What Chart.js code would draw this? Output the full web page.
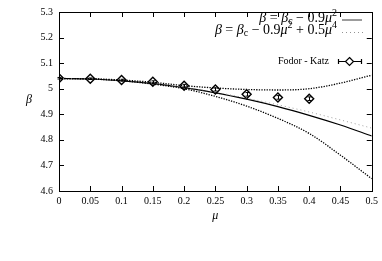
<!DOCTYPE html>
<html>
<head>
<meta charset="utf-8">
<script src="https://cdn.jsdelivr.net/npm/chart.js@4"></script>
<style>
html,body{margin:0;padding:0;background:#fff}
#c{display:block}
</style>
</head>
<body>
<canvas id="c" width="382" height="261"></canvas>
<script>
// valores
var mu = [0, 0.05, 0.1, 0.15, 0.2, 0.25, 0.3, 0.35, 0.4, 0.45, 0.5];
var betaCuad = [5.040, 5.038, 5.031, 5.020, 5.004, 4.984, 4.959, 4.930, 4.896, 4.858, 4.815];
var betaCuart = [5.040, 5.038, 5.031, 5.020, 5.005, 4.986, 4.963, 4.937, 4.909, 4.878, 4.846];
var bandaSup = [5.040, 5.039, 5.034, 5.025, 5.012, 5.003, 4.997, 4.995, 5.000, 5.022, 5.053];
var bandaInf = [5.040, 5.038, 5.031, 5.018, 5.000, 4.970, 4.932, 4.884, 4.825, 4.740, 4.648];

var fkMu = [0, 0.05, 0.1, 0.15, 0.2, 0.25, 0.3, 0.35, 0.4];
var fkBeta = [5.041, 5.039, 5.034, 5.027, 5.012, 4.997, 4.978, 4.966, 4.961];
var fkErr = [0.003, 0.003, 0.003, 0.004, 0.005, 0.006, 0.007, 0.007, 0.007];

function puntos(xs, ys){
    let out = [];
    xs.forEach((x, i) => out.push({x: x, y: ys[i]}));
    return out;
}

function etiqueta(v){
    return String(Number(Number(v).toFixed(2)));
}

// texto con subindices y superindices
function textoRico(ctx, partes, xDer, y, tam){
    let fuente = function(p){
        let t = (p[1] == 'sub' || p[1] == 'sup') ? Math.round(tam*0.7) : tam;
        let est = p[1] == 'i' ? 'italic ' : '';
        return est + t + 'px "Liberation Serif"';
    };
    let ancho = 0;
    partes.forEach(p => { ctx.font = fuente(p); ancho += ctx.measureText(p[0]).width; });
    let x = xDer - ancho;
    ctx.textBaseline = 'middle';
    ctx.textAlign = 'left';
    partes.forEach(p => {
        ctx.font = fuente(p);
        let dy = 0;
        if (p[1] == 'sub') dy = 3;
        if (p[1] == 'sup') dy = -5;
        ctx.fillText(p[0], x, y + dy);
        x += ctx.measureText(p[0]).width;
    });
}

var decorado = {
    id: 'decorado',
    afterDatasetsDraw(chart){
        let ctx = chart.ctx;
        let xs = chart.scales.x, ys = chart.scales.y;
        ctx.save();
        ctx.strokeStyle = '#000';
        ctx.lineWidth = 1;
        // barras de error
        fkMu.forEach((m, i) => {
            let px = Math.round(xs.getPixelForValue(m)) + 0.5;
            let y1 = ys.getPixelForValue(fkBeta[i] + fkErr[i]);
            let y2 = ys.getPixelForValue(fkBeta[i] - fkErr[i]);
            ctx.beginPath();
            ctx.moveTo(px, y1); ctx.lineTo(px, y2);
            ctx.moveTo(px - 2, y1); ctx.lineTo(px + 2, y1);
            ctx.moveTo(px - 2, y2); ctx.lineTo(px + 2, y2);
            ctx.stroke();
        });
        ctx.restore();
    },
    afterDraw(chart){
        let ctx = chart.ctx;
        let a = chart.chartArea;
        let xs = chart.scales.x, ys = chart.scales.y;
        ctx.save();
        ctx.strokeStyle = '#000';
        ctx.lineWidth = 1;
        ctx.strokeRect(Math.round(a.left) + 0.5, Math.round(a.top) + 0.5, Math.round(a.right - a.left), Math.round(a.bottom - a.top));
        ctx.beginPath();
        xs.ticks.forEach(t => {
            let px = Math.round(xs.getPixelForValue(t.value)) + 0.5;
            ctx.moveTo(px, a.bottom); ctx.lineTo(px, a.bottom - 5);
            ctx.moveTo(px, a.top); ctx.lineTo(px, a.top + 5);
        });
        ys.ticks.forEach(t => {
            let py = Math.round(ys.getPixelForValue(t.value)) + 0.5;
            ctx.moveTo(a.left, py); ctx.lineTo(a.left + 5, py);
            ctx.moveTo(a.right, py); ctx.lineTo(a.right - 5, py);
        });
        ctx.stroke();

        // titulos de ejes
        ctx.fillStyle = '#000';
        ctx.font = 'italic 12px "Liberation Serif"';
        ctx.textAlign = 'center';
        ctx.textBaseline = 'middle';
        ctx.fillText('β', 29, 100);
        ctx.fillText('μ', (a.left + a.right) / 2, 216);

        // leyenda
        textoRico(ctx, [['β','i'],[' = ','n'],['β','i'],['c','sub'],[' − 0.9','n'],['μ','i'],['2','sup']], 337, 18, 14);
        textoRico(ctx, [['β','i'],[' = ','n'],['β','i'],['c','sub'],[' − 0.9','n'],['μ','i'],['2','sup'],[' + 0.5','n'],['μ','i'],['4','sup']], 337, 30, 14);
        ctx.strokeStyle = '#666';
        ctx.lineWidth = 1.3;
        ctx.beginPath(); ctx.moveTo(342, 20); ctx.lineTo(362, 20); ctx.stroke();
        ctx.strokeStyle = '#777';
        ctx.lineWidth = 0.8;
        ctx.setLineDash([1, 3]);
        ctx.beginPath(); ctx.moveTo(342, 32.5); ctx.lineTo(363, 32.5); ctx.stroke();
        ctx.setLineDash([]);

        ctx.font = '10px "Liberation Serif"';
        ctx.textAlign = 'right';
        ctx.fillText('Fodor - Katz', 329, 61);
        ctx.strokeStyle = '#000';
        ctx.lineWidth = 1.2;
        ctx.beginPath();
        ctx.moveTo(338, 61.5); ctx.lineTo(362, 61.5);
        ctx.moveTo(338.5, 59); ctx.lineTo(338.5, 64);
        ctx.moveTo(361.5, 59); ctx.lineTo(361.5, 64);
        ctx.stroke();
        ctx.fillStyle = '#fff';
        ctx.beginPath();
        ctx.moveTo(349.5, 57.5); ctx.lineTo(353.5, 61.5); ctx.lineTo(349.5, 65.5); ctx.lineTo(345.5, 61.5); ctx.closePath();
        ctx.fill(); ctx.stroke();
        ctx.restore();
    }
};

var curva = {
    type: 'line',
    pointRadius: 0,
    fill: false,
    cubicInterpolationMode: 'monotone'
};

var grafica = new Chart(document.getElementById('c').getContext('2d'), {
    type: 'line',
    data: {
        datasets: [
            Object.assign({}, curva, {data: puntos(mu, bandaSup), borderColor: '#000', borderWidth: 1.3, borderDash: [1.3, 1.3]}),
            Object.assign({}, curva, {data: puntos(mu, bandaInf), borderColor: '#000', borderWidth: 1.3, borderDash: [1.3, 1.3]}),
            Object.assign({}, curva, {data: puntos(mu, betaCuart), borderColor: '#888', borderWidth: 0.8, borderDash: [1, 3]}),
            Object.assign({}, curva, {data: puntos(mu, betaCuad), borderColor: '#000', borderWidth: 1.2}),
            {
                type: 'scatter',
                data: puntos(fkMu, fkBeta),
                showLine: false,
                pointStyle: 'rectRot',
                pointRadius: 4.5,
                pointBackgroundColor: '#fff',
                pointBorderColor: '#000',
                pointBorderWidth: 1.4
            }
        ]
    },
    options: {
        responsive: false,
        animation: false,
        devicePixelRatio: 1,
        layout: {padding: {top: 12, right: 10, left: 0, bottom: 0}},
        plugins: {legend: {display: false}, tooltip: {enabled: false}},
        scales: {
            x: {
                type: 'linear',
                min: 0, max: 0.5,
                afterFit: s => { s.height = 70; },
                grid: {drawOnChartArea: false, drawTicks: false},
                border: {display: false},
                ticks: {stepSize: 0.05, padding: 4, color: '#000', font: {family: 'Liberation Serif', size: 10}, callback: etiqueta, maxRotation: 0, autoSkip: false}
            },
            y: {
                type: 'linear',
                min: 4.6, max: 5.3,
                afterFit: s => { s.width = 59; },
                grid: {drawOnChartArea: false, drawTicks: false},
                border: {display: false},
                ticks: {stepSize: 0.1, padding: 6, color: '#000', font: {family: 'Liberation Serif', size: 10}, callback: etiqueta}
            }
        }
    },
    plugins: [decorado]
});
</script>
</body>
</html>
